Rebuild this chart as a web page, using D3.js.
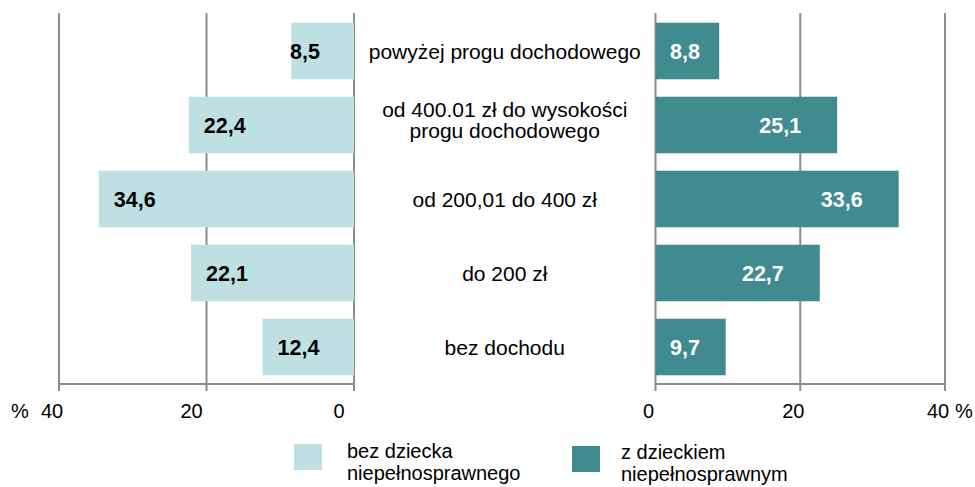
<!DOCTYPE html>
<html><head><meta charset="utf-8">
<script src="https://cdn.jsdelivr.net/npm/d3@7/dist/d3.min.js"></script>
<style>
html,body{margin:0;padding:0;background:#fff;}
svg{display:block;font-family:"Liberation Sans",Arial,sans-serif;}
</style></head><body>
<svg id="chart" width="975" height="487"></svg>
<script>
const categories = [
  ["powyżej progu dochodowego"],
  ["od 400.01 zł do wysokości", "progu dochodowego"],
  ["od 200,01 do 400 zł"],
  ["do 200 zł"],
  ["bez dochodu"]
];
const seriesNames = ["bez dziecka niepełnosprawnego", "z dzieckiem niepełnosprawnym"];
const legendLines = [["bez dziecka", "niepełnosprawnego"], ["z dzieckiem", "niepełnosprawnym"]];
const withoutDisabledChild = [8.5, 22.4, 34.6, 22.1, 12.4];
const withDisabledChild = [8.8, 25.1, 33.6, 22.7, 9.7];
const tickValues = [0, 20, 40];

const colors = ["#bfe0e2", "#3f8b8f"];
const grid = "#8c8c8c";
const fmt = v => String(v.toFixed(1)).replace(".", ",");

const svg = d3.select("#chart");
const idx = d3.range(categories.length);
const y = d3.scaleBand().domain(idx).range([14, 384]).paddingInner(0.236).paddingOuter(0.118);
const xL = d3.scaleLinear().domain([0, 40]).range([354, 59]);
const xR = d3.scaleLinear().domain([0, 40]).range([655.5, 945]);

// gridlines
function grids(x) {
  svg.append("g").selectAll("line").data(tickValues).join("line")
    .attr("x1", d => x(d)).attr("x2", d => x(d))
    .attr("y1", 13).attr("y2", 391)
    .attr("stroke", grid).attr("stroke-width", 2);
  svg.append("line").attr("x1", x(0)).attr("x2", x(40)).attr("y1", 384).attr("y2", 384)
    .attr("stroke", grid).attr("stroke-width", 2);
}
grids(xL); grids(xR);

// bars
svg.append("g").selectAll("rect").data(withoutDisabledChild).join("rect")
  .attr("x", d => xL(d)).attr("width", d => xL(0) - xL(d))
  .attr("y", (d, i) => y(i)).attr("height", y.bandwidth())
  .attr("fill", colors[0]);
svg.append("g").selectAll("rect").data(withDisabledChild).join("rect")
  .attr("x", xR(0)).attr("width", d => xR(d) - xR(0))
  .attr("y", (d, i) => y(i)).attr("height", y.bandwidth())
  .attr("fill", colors[1]);

// value labels
svg.append("g").selectAll("text").data(withoutDisabledChild).join("text")
  .attr("x", d => Math.min(xL(d) + 15, xL(0) - 64))
  .attr("y", (d, i) => y(i) + y.bandwidth() / 2)
  .attr("dy", "0.35em").attr("font-size", 21.5).attr("font-weight", "bold")
  .attr("fill", "#000").text(fmt);
svg.append("g").selectAll("text").data(withDisabledChild).join("text")
  .attr("x", d => Math.max(xR(d) - 36, xR(0) + 44.5))
  .attr("text-anchor", "end")
  .attr("y", (d, i) => y(i) + y.bandwidth() / 2)
  .attr("dy", "0.35em").attr("font-size", 21.5).attr("font-weight", "bold")
  .attr("fill", "#fff").text(fmt);

// category labels
const cx = (xL(0) + xR(0)) / 2;
categories.forEach((lines, i) => {
  const c = y(i) + y.bandwidth() / 2;
  const lh = 21.5;
  const first = lines.length === 1 ? c + 7.5 : c - 8.5;
  lines.forEach((t, j) => {
    svg.append("text").attr("x", cx)
      .attr("y", first + j * lh)
      .attr("text-anchor", "middle")
      .attr("font-size", 21).attr("fill", "#000").text(t);
  });
});

// tick labels
svg.append("g").selectAll("text").data(tickValues).join("text")
  .attr("x", d => xL(d) + (d === 40 ? -7 : -15)).attr("y", 418)
  .attr("text-anchor", "middle").attr("font-size", 20).text(d => d);
svg.append("text").attr("x", 11).attr("y", 418).attr("font-size", 20).text("%");
svg.append("g").selectAll("text").data(tickValues).join("text")
  .attr("x", d => xR(d) - 7).attr("y", 418)
  .attr("text-anchor", "middle").attr("font-size", 20).text(d => d);
svg.append("text").attr("x", 955).attr("y", 418).attr("font-size", 20).text("%");

// legend
const legPos = [{x: 294, y: 444}, {x: 572, y: 446}];
legendLines.forEach((lines, i) => {
  const g = svg.append("g").attr("transform", `translate(${legPos[i].x},${legPos[i].y})`);
  g.append("rect").attr("width", 28).attr("height", 26).attr("fill", colors[i]);
  lines.forEach((t, j) => {
    g.append("text").attr("x", i === 0 ? 53 : 49).attr("y", 14 + j * 22 + (i === 0 ? 0 : -1))
      .attr("font-size", 20).attr("fill", "#000").text(t);
  });
});
</script>
</body></html>
